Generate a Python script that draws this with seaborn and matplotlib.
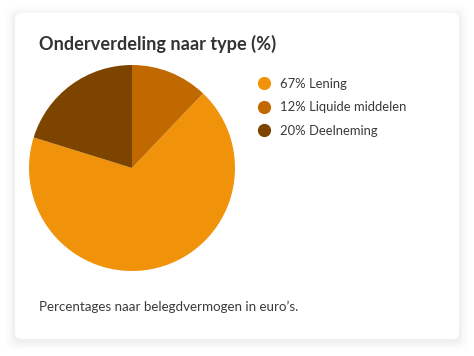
import matplotlib
matplotlib.use("Agg")
import matplotlib.pyplot as plt
from matplotlib.patches import FancyBboxPatch
from matplotlib.lines import Line2D
import seaborn as sns

# ---- data ----
categories = ["Lening", "Liquide middelen", "Deelneming"]
percentages = [67, 12, 20]
colors = ["#f0930b", "#c06900", "#7d4400"]
title = "Onderverdeling naar type (%)"
footnote = "Percentages naar belegdvermogen in euro\u2019s."

sns.set_theme(style="white")
plt.rcParams["font.family"] = ["Lato", "DejaVu Sans"]

W, H = 474, 356
fig = plt.figure(figsize=(W / 100, H / 100), dpi=100)
fig.patch.set_facecolor("white")

def fx(px):
    return px / W

def fy(py):
    return 1 - py / H

# card with soft shadow
cl, ct, cr, cb = 15, 13, 459, 339
for i, a in enumerate([0.018, 0.014, 0.010, 0.007, 0.004]):
    pad = (i + 1) * 2.0
    sh = FancyBboxPatch((fx(cl - pad), fy(cb + pad + 2)), fx(cr - cl + 2 * pad), (cb - ct + 2 * pad) / H,
                        boxstyle="round,pad=0,rounding_size=0.02", transform=fig.transFigure,
                        facecolor="black", edgecolor="none", alpha=a, zorder=0)
    fig.patches.append(sh)
card = FancyBboxPatch((fx(cl), fy(cb)), fx(cr - cl), (cb - ct) / H,
                      boxstyle="round,pad=0,rounding_size=0.014", transform=fig.transFigure,
                      facecolor="white", edgecolor="none", zorder=1)
fig.patches.append(card)

# pie
cx, cy, r = 132, 168, 103
ax = fig.add_axes([fx(cx - r), fy(cy + r), fx(2 * r), 2 * r / H])
ax.set_zorder(2)
total = sum(percentages)
start = 90 + percentages[2] / total * 360
ax.pie(percentages, colors=colors, startangle=start, counterclock=True,
       radius=1, wedgeprops=dict(linewidth=0, antialiased=True))
ax.set_xlim(-1, 1)
ax.set_ylim(-1, 1)
ax.set_aspect("equal")
ax.axis("off")

# title and footnote
fig.text(fx(39), fy(44), title, fontsize=13.1, fontweight="bold", color="#333333",
         va="center", ha="left", zorder=3)
fig.text(fx(39), fy(307), footnote, fontsize=9.65, color="#3a3a3a",
         va="center", ha="left", zorder=3)

# legend
handles = [Line2D([], [], marker="o", linestyle="none", markersize=8.5,
                  markerfacecolor=c, markeredgecolor=c) for c in colors]
labels = [f"{p}% {c}" for p, c in zip(percentages, categories)]
leg = fig.legend(handles, labels, loc="upper left", bbox_to_anchor=(fx(258), fy(78)),
                 frameon=False, fontsize=9.35, labelcolor="#3a3a3a",
                 handlelength=1.0, handletextpad=0.72, labelspacing=0.88,
                 borderpad=0, borderaxespad=0)
leg.set_zorder(3)

fig.savefig("out.png", dpi=100, facecolor="white")
